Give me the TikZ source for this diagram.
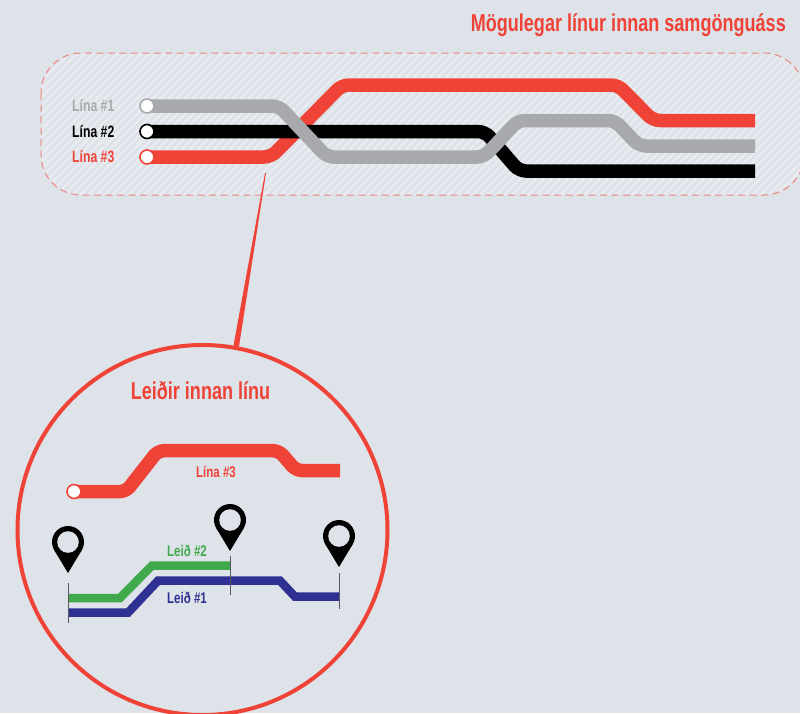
\documentclass[tikz,border=0pt]{standalone}
\usepackage{fontspec}
\usetikzlibrary{calc}
\setmainfont[FakeStretch=0.74]{Liberation Sans Bold}
\definecolor{bgc}{HTML}{DEE2E9}
\definecolor{stripec}{HTML}{E8EBF0}
\definecolor{redc}{HTML}{F04338}
\definecolor{greyc}{HTML}{A7A9AC}
\definecolor{greenc}{HTML}{3FA94B}
\definecolor{bluec}{HTML}{2E3192}
\definecolor{dashc}{HTML}{EC8580}
\definecolor{tickc}{HTML}{55585F}
\tikzset{
  x=1pt,y=-1pt,
  metro/.style={line width=13.5pt,rounded corners=7pt},
  thinroute/.style={line width=8.5pt},
  station/.style={circle,fill=white,draw=#1,line width=1.6pt,minimum size=14pt,inner sep=0pt},
  tickline/.style={draw=tickc,line width=1pt},
  lbl/.style={inner sep=0pt,font=\fontsize{16.5}{16.5}\selectfont},
  smalllbl/.style={inner sep=0pt,font=\fontsize{15.5}{15.5}\selectfont},
  bigtitle/.style={inner sep=0pt,text=redc,font=\fontsize{24.4}{24.4}\selectfont},
  pinmark/.pic={
    \fill[black] (-13.7,8.26) -- (0,31) -- (13.7,8.26) -- cycle;
    \fill[black] (0,0) circle[radius=16pt];
    \fill[bgc] (0,0) circle[radius=10.8pt];
  }
}
\begin{document}
\begin{tikzpicture}
\useasboundingbox (0,0) rectangle (800,713);
\clip (0,0) rectangle (800,713);
\fill[bgc] (0,0) rectangle (800,713);
% panel
\begin{scope}
  \clip[rounded corners=40pt] (41,53) rectangle (804,195);
  \foreach \k in {-160,-152,...,820}{
    \draw[stripec,line width=2.6pt] (\k,195) -- (\k+142,53);
  }
\end{scope}
\draw[dashc,line width=1pt,dash pattern=on 7pt off 4.5pt,rounded corners=40pt] (41,53) rectangle (804,195);
% line ends
\coordinate (st1) at (147,106);
\coordinate (st2) at (147,131.5);
\coordinate (st3) at (147,157);
\coordinate (e1) at (755,146);
\coordinate (e2) at (755,171);
\coordinate (e3) at (755,120.5);
% lines
\draw[metro,redc] (st3) -- (271,157) -- (342,85) -- (618,85) -- (653,120.5) -- (e3);
\draw[metro,black] (st2) -- (485,131.5) -- (519,171) -- (e2);
\draw[metro,greyc] (st1) -- (279,106) -- (327,157) -- (484,157) -- (518,120.5) -- (615,120.5) -- (639,146) -- (e1);
\node[station=greyc] (s1) at (st1) {};
\node[station=black] (s2) at (st2) {};
\node[station=redc] (s3) at (st3) {};
% labels top
\node[bigtitle,anchor=east] (title) at (786,25) {Mögulegar línur innan samgönguáss};
\node[lbl,text=greyc,anchor=east] (l1) at (114.5,106) {Lína \#1};
\node[lbl,text=black,anchor=east] (l2) at (114.5,132) {Lína \#2};
\node[lbl,text=redc,anchor=east] (l3) at (114.5,157) {Lína \#3};
% circle and connector
\node[circle,draw=redc,line width=4pt,minimum size=370pt,inner sep=0pt] (lens) at (202.5,530) {};
\coordinate (ca) at (265,173);
\coordinate (cb) at (237,346);
\fill[redc] (ca) -- ++(1,0) -- ($(cb)+(2,0.5)$) -- ($(cb)+(-3.5,-0.5)$) -- cycle;
\node[bigtitle,anchor=center] (t2) at (200.5,391) {Leiðir innan línu};
% inner line
\coordinate (st4) at (74,491.5);
\coordinate (e4) at (340,470.5);
\draw[metro,rounded corners=6pt,redc] (st4) -- (126,491.5) -- (158,450.7) -- (279,450.7) -- (296,470.5) -- (e4);
\node[station=redc] (s4) at (st4) {};
\node[smalllbl,text=redc] (l4) at (216,472) {Lína \#3};
% routes
\coordinate (g0) at (68,598);
\coordinate (g1) at (230,565.5);
\coordinate (b0) at (68,612.7);
\coordinate (b1) at (339,596.7);
\draw[thinroute,greenc] (g0) -- (120,598) -- (152,565.5) -- (g1);
\draw[thinroute,bluec] (b0) -- (128,612.7) -- (158,580.7) -- (280,580.7) -- (295,596.7) -- (b1);
% ticks
\coordinate (ta0) at (68,583);  \coordinate (ta1) at (68,623);
\coordinate (tb0) at (230,556); \coordinate (tb1) at (230,595);
\coordinate (tc0) at (339,573); \coordinate (tc1) at (339,609);
\draw[tickline] (ta0) -- (ta1);
\draw[tickline] (tb0) -- (tb1);
\draw[tickline] (tc0) -- (tc1);
\node[smalllbl,text=greenc] (r2) at (187,550.5) {Leið \#2};
\node[smalllbl,text=bluec] (r1) at (187,598) {Leið \#1};
% pins
\pic at (68,542) {pinmark};
\pic at (230,520) {pinmark};
\pic at (339,536) {pinmark};
\end{tikzpicture}
\end{document}
